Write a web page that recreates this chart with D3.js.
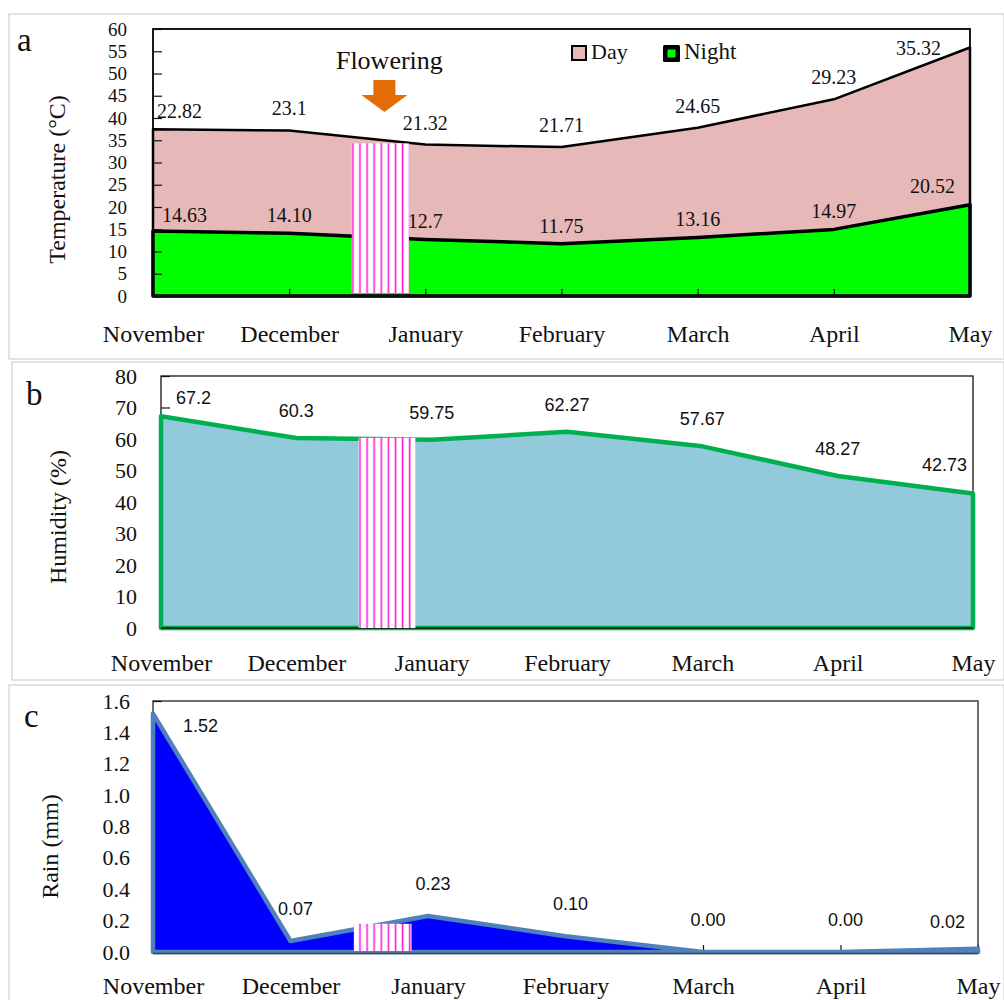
<!DOCTYPE html>
<html>
<head>
<meta charset="utf-8">
<script src="https://cdn.jsdelivr.net/npm/d3@7"></script>
<style>
  body { margin: 0; background: #fff; }
  svg text { font-family: "Liberation Serif", "DejaVu Serif", serif; fill: #111; }
  .sans { font-family: "Liberation Sans", Arial, sans-serif !important; }
</style>
</head>
<body>
<div id="chart"></div>
<script>
// Monthly climate data, November - May
const months = ['November', 'December', 'January', 'February', 'March', 'April', 'May'];

const dayTemp = [22.82, 23.1, 21.32, 21.71, 24.65, 29.23, 35.32];
const dayTempText = ['22.82', '23.1', '21.32', '21.71', '24.65', '29.23', '35.32'];
const nightTemp = [14.63, 14.10, 12.7, 11.75, 13.16, 14.97, 20.52];
const nightTempText = ['14.63', '14.10', '12.7', '11.75', '13.16', '14.97', '20.52'];

const humidity = [67.2, 60.3, 59.75, 62.27, 57.67, 48.27, 42.73];
const humidityText = ['67.2', '60.3', '59.75', '62.27', '57.67', '48.27', '42.73'];

const rain = [1.52, 0.07, 0.23, 0.10, 0.00, 0.00, 0.02];
const rainText = ['1.52', '0.07', '0.23', '0.10', '0.00', '0.00', '0.02'];

const tempTicks = [0, 5, 10, 15, 20, 25, 30, 35, 40, 45, 50, 55, 60];
const humidityTicks = [0, 10, 20, 30, 40, 50, 60, 70, 80];
const rainTicks = [0, 0.2, 0.4, 0.6, 0.8, 1.0, 1.2, 1.4, 1.6];

// flowering period, in month index units, and the height of the hatched block in each panel
const floweringSpan = [1.46, 1.88];
const floweringTop = [34.3, 60.4, 0.18];

const svg = d3.select('#chart')
    .append('svg')
    .attr('width', 1004)
    .attr('height', 1000);

// hatch pattern for the flowering block
const pat = svg.append('defs')
    .append('pattern')
    .attr('id', 'hatch')
    .attr('patternUnits', 'userSpaceOnUse')
    .attr('width', 7.1)
    .attr('height', 10);
pat.append('rect').attr('width', 7.1).attr('height', 10).attr('fill', '#fff');
pat.append('line')
    .attr('x1', 5).attr('x2', 5).attr('y1', 0).attr('y2', 10)
    .attr('stroke', '#ff1ed2').attr('stroke-width', 1.6);

function setupPanel(p) {
    svg.append('rect')
        .attr('x', p.box[0]).attr('y', p.box[1])
        .attr('width', p.box[2]).attr('height', p.box[3])
        .attr('fill', 'none')
        .attr('stroke', '#d9d9d9')
        .attr('stroke-width', 1.5);
    const x = d3.scaleLinear().domain([0, months.length - 1]).range([p.left, p.right]);
    const y = d3.scaleLinear().domain([0, p.yMax]).range([p.bottom, p.top]);
    return { x, y };
}

function drawHatch(x, y, top, bottomInset) {
    svg.append('rect')
        .attr('x', x(floweringSpan[0]))
        .attr('y', y(top))
        .attr('width', x(floweringSpan[1]) - x(floweringSpan[0]))
        .attr('height', y(0) - y(top) - bottomInset)
        .attr('fill', 'url(#hatch)');
}

function drawAxes(p, x, y) {
    // frame
    svg.append('rect')
        .attr('x', p.left).attr('y', p.top)
        .attr('width', p.right - p.left).attr('height', p.bottom - p.top)
        .attr('fill', 'none')
        .attr('stroke', p.frameColor)
        .attr('stroke-width', p.frameWidth);

    const yAxis = svg.append('g')
        .attr('transform', `translate(${p.left},0)`)
        .call(d3.axisLeft(y)
            .tickValues(p.ticks)
            .tickFormat(p.tickFormat)
            .tickSizeInner(-9)
            .tickSizeOuter(0)
            .tickPadding(p.yPad));
    yAxis.select('.domain').remove();
    yAxis.selectAll('line').attr('stroke', '#111').attr('stroke-width', 1.2);
    yAxis.selectAll('text')
        .style('font-family', '"Liberation Serif", serif')
        .style('font-size', p.tickSize + 'px');

    const xAxis = svg.append('g')
        .attr('transform', `translate(0,${p.bottom})`)
        .call(d3.axisBottom(x)
            .tickValues(d3.range(months.length))
            .tickFormat(i => months[i])
            .tickSizeInner(-7)
            .tickSizeOuter(0)
            .tickPadding(p.xPad));
    xAxis.select('.domain').remove();
    xAxis.selectAll('line').attr('stroke', '#111').attr('stroke-width', 1.2);
    xAxis.selectAll('text')
        .style('font-family', '"Liberation Serif", serif')
        .style('font-size', '24px');

    // bottom axis line
    svg.append('line')
        .attr('x1', p.left).attr('x2', p.right)
        .attr('y1', p.bottom).attr('y2', p.bottom)
        .attr('stroke', '#111')
        .attr('stroke-width', p.bottomWidth);

    svg.append('text')
        .attr('transform', `translate(${p.titleX},${(p.top + p.bottom) / 2 + p.titleShift}) rotate(-90)`)
        .attr('text-anchor', 'middle')
        .style('font-size', '24px')
        .text(p.title);

    svg.append('text')
        .attr('x', p.letterPos[0]).attr('y', p.letterPos[1])
        .style('font-size', '33px')
        .text(p.letter);
}

function drawLabels(texts, values, x, y, o) {
    const n = texts.length;
    const midDx = o.midDx || 0;
    svg.append('g')
        .selectAll('text')
        .data(texts)
        .join('text')
        .attr('class', o.cls || null)
        .attr('x', (d, i) => x(i) + (i === 0 ? o.firstDx : i === n - 1 ? o.lastDx : midDx))
        .attr('y', (d, i) => y(values[i]) - (i === 0 ? o.firstDy : i === n - 1 ? o.lastDy : o.dy))
        .attr('text-anchor', (d, i) => i === 0 ? 'start' : i === n - 1 ? 'end' : 'middle')
        .style('font-size', o.size + 'px')
        .text(d => d);
}

// ---------- panel a: temperature ----------
const panelA = {
    box: [9, 14, 995, 345],
    left: 153, right: 970, top: 29, bottom: 296, yMax: 60,
    ticks: tempTicks, tickFormat: d => d, tickSize: 19, yPad: 26, xPad: 29,
    frameColor: '#000', frameWidth: 1.8, bottomWidth: 3,
    title: 'Temperature (\u00B0C)', titleX: 65, titleShift: 17,
    letter: 'a', letterPos: [17, 51]
};
const a = setupPanel(panelA);
const dayTotal = dayTemp.map((d, i) => d + nightTemp[i]);
const areaA = d3.area()
    .x((d, i) => a.x(i))
    .y0(a.y(0))
    .y1(d => a.y(d));

svg.append('path')
    .datum(dayTotal)
    .attr('d', areaA)
    .attr('fill', '#e6b8b7')
    .attr('stroke', '#000')
    .attr('stroke-width', 2.5)
    .attr('stroke-linejoin', 'round');

svg.append('path')
    .datum(nightTemp)
    .attr('d', areaA)
    .attr('fill', '#00ff00')
    .attr('stroke', '#000')
    .attr('stroke-width', 3.5)
    .attr('stroke-linejoin', 'round');

drawHatch(a.x, a.y, floweringTop[0], 3);
drawAxes(panelA, a.x, a.y);

drawLabels(dayTempText, dayTotal, a.x, a.y,
    { size: 20, dy: 15, firstDx: 4, firstDy: 11, lastDx: -29, lastDy: -7 });
drawLabels(nightTempText, nightTemp, a.x, a.y,
    { size: 20, dy: 11, firstDx: 9, firstDy: 9, lastDx: -15, lastDy: 12 });

// flowering marker
const flowerX = a.x((floweringSpan[0] + floweringSpan[1]) / 2) + 4;
svg.append('text')
    .attr('x', flowerX + 5)
    .attr('y', 69)
    .attr('text-anchor', 'middle')
    .style('font-size', '26px')
    .text('Flowering');
svg.append('path')
    .attr('d', `M${flowerX - 11},80 h22 v15 h12 l-23,17 l-23,-17 h12 z`)
    .attr('fill', '#e36c09');

// legend
const legend = svg.append('g').attr('transform', 'translate(572,46)');
legend.append('rect')
    .attr('width', 14).attr('height', 14)
    .attr('fill', '#e6b8b7').attr('stroke', '#000').attr('stroke-width', 2);
legend.append('text').attr('x', 19).attr('y', 13).style('font-size', '22px').text('Day');
legend.append('rect')
    .attr('x', 91).attr('y', -1).attr('width', 17).attr('height', 17)
    .attr('fill', '#000').attr('rx', 1.5);
legend.append('rect')
    .attr('x', 95.5).attr('y', 3.5).attr('width', 8).attr('height', 8)
    .attr('fill', '#00ff00');
legend.append('text').attr('x', 112).attr('y', 13).style('font-size', '23px').text('Night');

// ---------- panel b: humidity ----------
const panelB = {
    box: [12, 362, 992, 318],
    left: 161, right: 973, top: 376, bottom: 628, yMax: 80,
    ticks: humidityTicks, tickFormat: d => d, tickSize: 22, yPad: 24, xPad: 26,
    frameColor: '#000', frameWidth: 1.2, bottomWidth: 1.5,
    title: 'Humidity (%)', titleX: 66, titleShift: 15,
    letter: 'b', letterPos: [26, 405]
};
const b = setupPanel(panelB);
const areaB = d3.area()
    .x((d, i) => b.x(i))
    .y0(b.y(0))
    .y1(d => b.y(d));

drawAxes(panelB, b.x, b.y);
svg.append('path')
    .datum(humidity)
    .attr('d', areaB)
    .attr('fill', '#93cadb')
    .attr('stroke', '#00b050')
    .attr('stroke-width', 4.5)
    .attr('stroke-linejoin', 'round');
svg.append('line')
    .attr('x1', panelB.left).attr('x2', panelB.right)
    .attr('y1', panelB.bottom).attr('y2', panelB.bottom)
    .attr('stroke', '#0b3d1c').attr('stroke-width', 2);
drawHatch(b.x, b.y, floweringTop[1], 0);

drawLabels(humidityText, humidity, b.x, b.y,
    { cls: 'sans', size: 18, dy: 21, firstDx: 15, firstDy: 12, lastDx: -6, lastDy: 22 });

// ---------- panel c: rain ----------
const panelC = {
    box: [9, 685, 995, 320],
    left: 153, right: 978, top: 701, bottom: 952, yMax: 1.6,
    ticks: rainTicks, tickFormat: d3.format('.1f'), tickSize: 22, yPad: 23, xPad: 25,
    frameColor: '#404040', frameWidth: 1.5, bottomWidth: 1.5,
    title: 'Rain (mm)', titleX: 58, titleShift: 20,
    letter: 'c', letterPos: [24, 727]
};
const c = setupPanel(panelC);
const areaC = d3.area()
    .x((d, i) => c.x(i))
    .y0(c.y(0))
    .y1(d => c.y(d));

drawAxes(panelC, c.x, c.y);
svg.append('path')
    .datum(rain)
    .attr('d', areaC)
    .attr('fill', '#0000ff')
    .attr('stroke', '#4f81bd')
    .attr('stroke-width', 4.5)
    .attr('stroke-linejoin', 'round');
svg.append('line')
    .attr('x1', panelC.left).attr('x2', panelC.right)
    .attr('y1', panelC.bottom + 1.5).attr('y2', panelC.bottom + 1.5)
    .attr('stroke', '#404040').attr('stroke-width', 1.5);
drawHatch(c.x, c.y, floweringTop[2], 1);

drawLabels(rainText, rain, c.x, c.y,
    { cls: 'sans', size: 18, dy: 26, midDx: 5, firstDx: 30, firstDy: -18, lastDx: -13, lastDy: 21 });
</script>
</body>
</html>
